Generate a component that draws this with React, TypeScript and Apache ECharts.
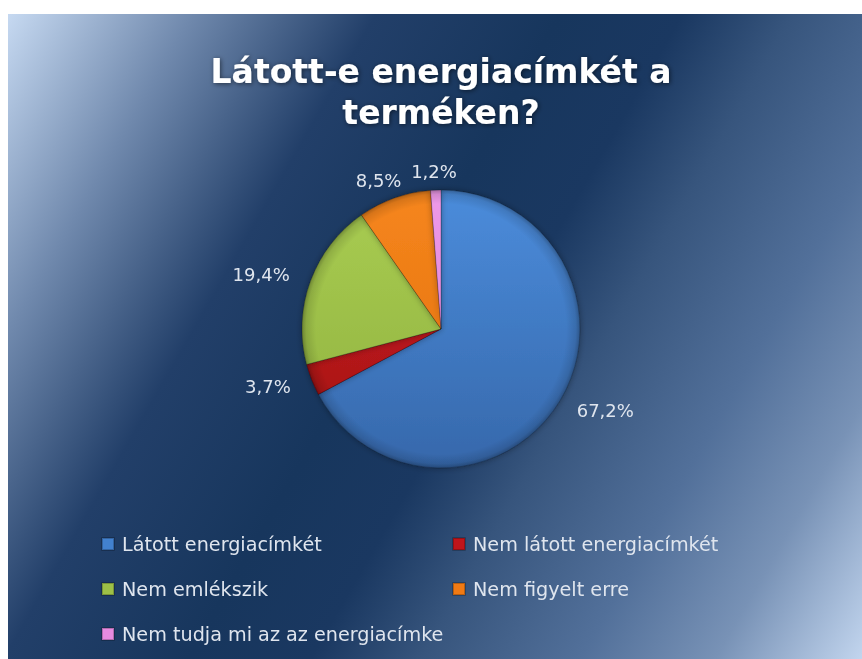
import React, { useEffect, useRef } from "react";
import * as echarts from "echarts";

const categories = [
  "Látott energiacímkét",
  "Nem látott energiacímkét",
  "Nem emlékszik",
  "Nem figyelt erre",
  "Nem tudja mi az az energiacímke",
];
const values = [67.2, 3.7, 19.4, 8.5, 1.2];
const baseColors = ["#4281cf", "#c0151b", "#9dc047", "#f07a14", "#e68ae0"];
const topColors = ["#4b8cdb", "#d01c22", "#a9cd53", "#f6861d", "#ee9ae8"];
const bottomColors = ["#3668ab", "#a00f14", "#8fb03c", "#e06e0c", "#d478cf"];
const titleText = "Látott-e energiacímkét a\nterméken?";

const W = 854;
const H = 645;
const CX = 433;
const CY = 315;
const R = 139;

export default function App() {
  const ref = useRef<HTMLDivElement>(null);
  useEffect(() => {
    if (!ref.current) return;
    const chart = echarts.init(ref.current, null, { renderer: "svg" });
    const bg = new echarts.graphic.LinearGradient(
      0,
      0,
      920,
      531,
      [
        { offset: 0, color: "#c6d9f1" },
        { offset: 0.15, color: "#7089ad" },
        { offset: 0.3, color: "#223f69" },
        { offset: 0.45, color: "#17365d" },
        { offset: 0.55, color: "#1a3861" },
        { offset: 0.64, color: "#37557d" },
        { offset: 0.77, color: "#52709a" },
        { offset: 0.88, color: "#7892b6" },
        { offset: 1, color: "#c2d5ee" },
      ],
      true
    );
    const total = values.reduce((a, b) => a + b, 0);
    const midAngles: number[] = [];
    let acc = 0;
    values.forEach((v) => {
      const a0 = 90 - (acc / total) * 360;
      acc += v;
      const a1 = 90 - (acc / total) * 360;
      midAngles.push(((a0 + a1) / 2) * (Math.PI / 180));
    });
    const leftIdx = [0, 2, 4];
    const rightIdx = [1, 3];
    const legendCommon = {
      orient: "vertical" as const,
      top: 515,
      itemGap: 25,
      itemWidth: 12,
      itemHeight: 12,
      icon: "rect",
      textStyle: {
        color: "#dfe5ee",
        fontSize: 19.2,
        fontFamily: "DejaVu Sans",
        lineHeight: 20,
        padding: [0, 0, 0, 3],
      },
    };
    chart.setOption({
      animation: false,
      graphic: [
        {
          type: "rect",
          z: -100,
          silent: true,
          shape: { x: 0, y: 0, width: W, height: H },
          style: { fill: bg },
        },
        {
          type: "text",
          x: CX,
          y: 37,
          z: 10,
          style: {
            text: titleText,
            textAlign: "center",
            fill: "#ffffff",
            fontSize: 33,
            fontWeight: "bold",
            fontFamily: "DejaVu Sans",
            lineHeight: 41,
            textShadowColor: "rgba(0,0,0,0.55)",
            textShadowBlur: 5,
            textShadowOffsetX: 1,
            textShadowOffsetY: 1,
          },
        },
      ],
      legend: [
        {
          ...legendCommon,
          left: 88,
          data: leftIdx.map((i) => ({ name: categories[i], itemStyle: { color: baseColors[i] } })),
        },
        {
          ...legendCommon,
          left: 439,
          data: rightIdx.map((i) => ({ name: categories[i], itemStyle: { color: baseColors[i] } })),
        },
      ],
      series: [
        {
          type: "pie",
          center: [CX, CY],
          radius: R,
          startAngle: 90,
          clockwise: true,
          avoidLabelOverlap: false,
          label: {
            show: true,
            position: "outside",
            color: "#dfe5ee",
            fontSize: 18,
            fontFamily: "DejaVu Sans",
            formatter: (p: any) => values[p.dataIndex].toFixed(1).replace(".", ",") + "%",
          },
          labelLine: { show: false, length: 10, length2: 0 },
          labelLayout: (p: any) => {
            const a = midAngles[p.dataIndex];
            const dx = Math.cos(a);
            const dy = -Math.sin(a);
            const w = p.labelRect.width;
            const h = p.labelRect.height;
            return {
              x: CX + (R + 24) * dx + (dx * w) / 2,
              y: CY + (R + 10) * dy + (dy * h) / 2,
              align: "center",
              verticalAlign: "middle",
            };
          },
          itemStyle: {
            borderColor: "rgba(0,0,0,0.22)",
            borderWidth: 1,
            shadowBlur: 6,
            shadowColor: "rgba(0,0,0,0.35)",
          },
          data: categories.map((name, i) => ({
            name,
            value: values[i],
            itemStyle: {
              color: new echarts.graphic.LinearGradient(
                0,
                CY - R,
                0,
                CY + R,
                [
                  { offset: 0, color: topColors[i] },
                  { offset: 1, color: bottomColors[i] },
                ],
                true
              ),
            },
          })),
        },
        {
          type: "pie",
          center: [CX, CY],
          radius: R,
          startAngle: 90,
          clockwise: true,
          silent: true,
          label: { show: false },
          labelLine: { show: false },
          legendHoverLink: false,
          itemStyle: {
            borderWidth: 0,
            color: new echarts.graphic.RadialGradient(
              CX,
              CY,
              R,
              [
                { offset: 0, color: "rgba(0,0,0,0)" },
                { offset: 0.9, color: "rgba(0,0,0,0)" },
                { offset: 0.97, color: "rgba(0,0,0,0.12)" },
                { offset: 1, color: "rgba(0,0,0,0.3)" },
              ],
              true
            ),
          },
          data: values.map((v) => ({ value: v })),
        },
      ],
    });
    return () => chart.dispose();
  }, []);
  return (
    <div
      ref={ref}
      style={{ position: "fixed", left: 8, top: 14, width: W, height: H }}
    />
  );
}
